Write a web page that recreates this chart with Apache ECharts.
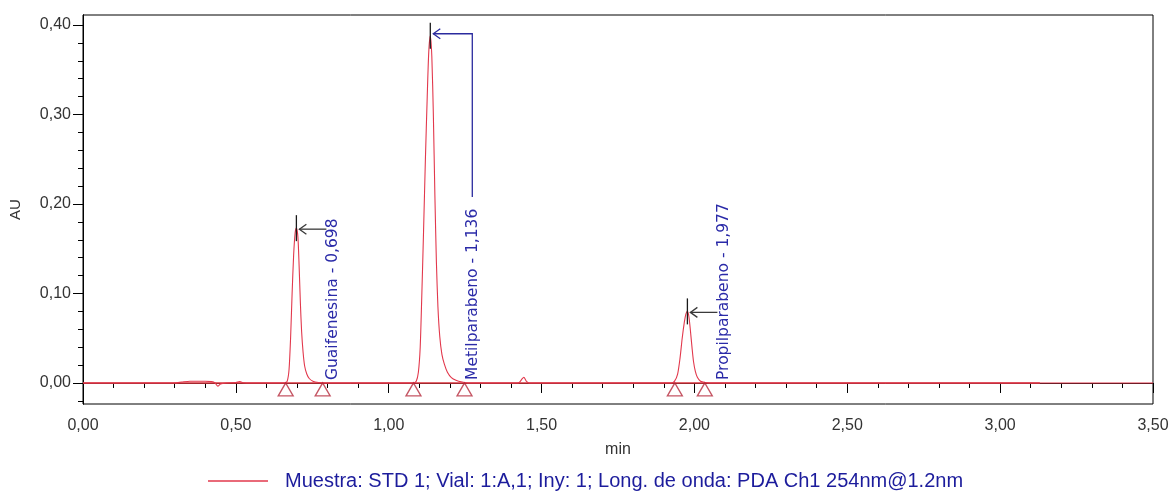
<!DOCTYPE html>
<html>
<head>
<meta charset="utf-8">
<script src="https://cdn.jsdelivr.net/npm/echarts@6/dist/echarts.min.js"></script>
<style>
  html, body { margin: 0; padding: 0; background: #fff; }
  #chart { width: 1173px; height: 494px; }
</style>
</head>
<body>
<div id="chart"></div>
<script>
// Chromatogram trace: retention time (min) and absorbance (AU)
const timeMin = [
  0.000, 0.300, 0.323, 0.350, 0.400, 0.421, 0.432, 0.441, 0.450, 0.470, 0.500, 0.513, 0.525, 0.550, 0.640,
  0.660, 0.668, 0.674, 0.679, 0.684, 0.689, 0.694, 0.698, 0.703, 0.707, 0.711, 0.715, 0.720, 0.725, 0.732, 0.740, 0.752, 0.770, 0.790,
  1.080, 1.090, 1.097, 1.103, 1.108, 1.114, 1.120, 1.126, 1.131, 1.136, 1.141, 1.146, 1.151, 1.156, 1.161, 1.167, 1.174, 1.182, 1.192, 1.205, 1.220, 1.240, 1.260,
  1.420, 1.427, 1.435, 1.442, 1.450, 1.459,
  1.925, 1.935, 1.945, 1.953, 1.960, 1.967, 1.972, 1.977, 1.982, 1.987, 1.992, 1.997, 2.003, 2.010, 2.020, 2.035, 2.050,
  3.500
];
const absorbance = [
  0.0000, 0.0000, 0.0010, 0.0020, 0.0020, 0.0015, 0.0000, -0.0035, -0.0010, 0.0000, 0.0005, 0.0015, 0.0002, 0.0000, 0.0000,
  0.0000, 0.0020, 0.0150, 0.0500, 0.1000, 0.1430, 0.1680, 0.1730, 0.1630, 0.1300, 0.0900, 0.0580, 0.0340, 0.0190, 0.0100, 0.0050, 0.0020, 0.0005, 0.0000,
  0.0000, 0.0020, 0.0120, 0.0400, 0.0950, 0.1700, 0.2500, 0.3200, 0.3700, 0.3880, 0.3650, 0.3000, 0.2100, 0.1350, 0.0850, 0.0520, 0.0320, 0.0210, 0.0120, 0.0060, 0.0030, 0.0010, 0.0000,
  0.0000, 0.0005, 0.0040, 0.0064, 0.0020, 0.0000,
  0.0000, 0.0020, 0.0100, 0.0280, 0.0500, 0.0680, 0.0770, 0.0800, 0.0740, 0.0580, 0.0400, 0.0240, 0.0130, 0.0060, 0.0020, 0.0005, 0.0000,
  0.0000
];

// Identified peaks
const peakTimes = [0.698, 1.136, 1.977];
const peakHeights = [0.173, 0.388, 0.080];
const peakLabels = ['Guaifenesina - 0,698', 'Metilparabeno - 1,136', 'Propilparabeno - 1,977'];
const peakLeaders = ['arrow', 'bracket', 'arrow'];

// Integration start / end marks on the baseline
const baselineMarks = [0.663, 0.784, 1.081, 1.248, 1.936, 2.034];

// Detector zero line span (min)
const zeroLineSpan = [0, 3.13];

// Axis ticks
const yTicks = [0, 0.1, 0.2, 0.3, 0.4];
const yMinorTicks = [-0.02, 0.02, 0.04, 0.06, 0.08, 0.12, 0.14, 0.16, 0.18, 0.22, 0.24, 0.26, 0.28, 0.32, 0.34, 0.36, 0.38];
const xMin = 0, xMax = 3.5, xStep = 0.5;
const yMin = -0.0235, yMax = 0.4112;

const seriesName = 'Muestra: STD 1; Vial: 1:A,1; Iny: 1; Long. de onda: PDA Ch1 254nm@1.2nm';

const traceData = timeMin.map((t, i) => [t, absorbance[i]]);
const peakData = peakTimes.map((t, i) => [t, peakHeights[i], i]);
const markData = baselineMarks.map(t => [t, 0]);

const fmt = v => v.toFixed(2).replace('.', ',');
const tickFont = { color: '#333', fontFamily: 'Liberation Sans', fontSize: 16 };

function renderPeak(params, api) {
  const i = api.value(2);
  const apex = api.coord([api.value(0), api.value(1)]);
  const base = api.coord([api.value(0), 0]);
  const bracket = peakLeaders[i] === 'bracket';
  const leadColor = bracket ? '#2b2b9e' : '#3a3a3a';
  const ay = apex[1] + (bracket ? -2 : 1);
  const labelX = apex[0] + (bracket ? 43 : 37);
  const children = [
    { type: 'line', shape: { x1: apex[0], y1: apex[1] - 13, x2: apex[0], y2: apex[1] + 13 },
      style: { stroke: '#1a1a1a', lineWidth: 1.3 } }
  ];
  if (bracket) {
    children.push({ type: 'polyline',
      shape: { points: [[apex[0] + 3, ay], [labelX - 1, ay], [labelX - 1, base[1] - 186]] },
      style: { stroke: leadColor, fill: null, lineWidth: 1.3 } });
  } else {
    children.push({ type: 'line', shape: { x1: apex[0] + 3, y1: ay, x2: labelX - 7, y2: ay },
      style: { stroke: leadColor, lineWidth: 1.3 } });
  }
  children.push({ type: 'polyline',
    shape: { points: [[apex[0] + 10, ay - 5], [apex[0] + 3, ay], [apex[0] + 10, ay + 5]] },
    style: { stroke: leadColor, fill: null, lineWidth: 1.3 } });
  children.push({ type: 'text', x: labelX, y: base[1] - 3, rotation: Math.PI / 2,
    style: { text: peakLabels[i], fill: '#2a2aa8', font: '15.5px "DejaVu Sans"', align: 'left', verticalAlign: 'middle' } });
  return { type: 'group', children };
}

const chart = echarts.init(document.getElementById('chart'), null, { renderer: 'canvas' });
chart.setOption({
  backgroundColor: '#fff',
  animation: false,
  grid: { left: 81, right: 20, top: 15, bottom: 90, show: true, borderColor: '#000', borderWidth: 1, backgroundColor: 'transparent' },
  legend: {
    data: [seriesName], left: 203, top: 466, icon: 'rect', itemWidth: 60, itemHeight: 1.5,
    textStyle: { color: '#1c1c9c', fontFamily: 'Liberation Sans', fontSize: 20, padding: [0, 0, 0, 12] }
  },
  xAxis: {
    type: 'value', min: xMin, max: xMax, interval: xStep,
    name: 'min', nameLocation: 'middle', nameGap: 38,
    nameTextStyle: { color: '#333', fontFamily: 'Liberation Sans', fontSize: 16 },
    axisLine: { lineStyle: { color: '#000', width: 1 } },
    axisTick: { length: 10, lineStyle: { color: '#000' } },
    minorTick: { show: true, splitNumber: 5, length: 5, lineStyle: { color: '#000' } },
    splitLine: { show: false },
    axisLabel: Object.assign({ margin: 14, formatter: fmt }, tickFont)
  },
  yAxis: [
    {
      type: 'value', min: yMin, max: yMax,
      name: 'AU', nameLocation: 'middle', nameGap: 60,
      nameTextStyle: { color: '#333', fontFamily: 'Liberation Sans', fontSize: 15 },
      axisLine: { show: true, lineStyle: { color: '#000', width: 1 } },
      axisTick: { show: true, length: 10, customValues: yTicks, lineStyle: { color: '#000' } },
      splitLine: { show: false },
      axisLabel: Object.assign({ margin: 12, customValues: yTicks, formatter: fmt }, tickFont)
    },
    {
      type: 'value', min: yMin, max: yMax, position: 'left',
      axisLine: { show: true, lineStyle: { color: '#000', width: 1 } },
      axisTick: { show: true, length: 5, customValues: yMinorTicks, lineStyle: { color: '#000' } },
      axisLabel: { show: false }, splitLine: { show: false }
    }
  ],
  series: [
    {
      name: 'zero', type: 'line', data: zeroLineSpan.map(t => [t, 0]), symbol: 'none', silent: true,
      lineStyle: { color: '#d8343e', width: 1.6 }, z: 1
    },
    {
      name: seriesName, type: 'line', data: traceData, symbol: 'none', smooth: 0.25,
      lineStyle: { color: '#e2384c', width: 1.1 }, itemStyle: { color: '#e2384c' }, z: 2
    },
    {
      name: 'marks', type: 'scatter', data: markData, symbol: 'triangle', symbolSize: [15, 13],
      symbolOffset: [0, '50%'], silent: true,
      itemStyle: { color: 'rgba(255,255,255,0)', borderColor: '#b52a3c', borderWidth: 1.3 }, z: 3
    },
    {
      name: 'peaks', type: 'custom', data: peakData, renderItem: renderPeak, clip: false, silent: true,
      encode: { x: 0, y: 1 }, z: 4
    }
  ]
});
</script>
</body>
</html>
